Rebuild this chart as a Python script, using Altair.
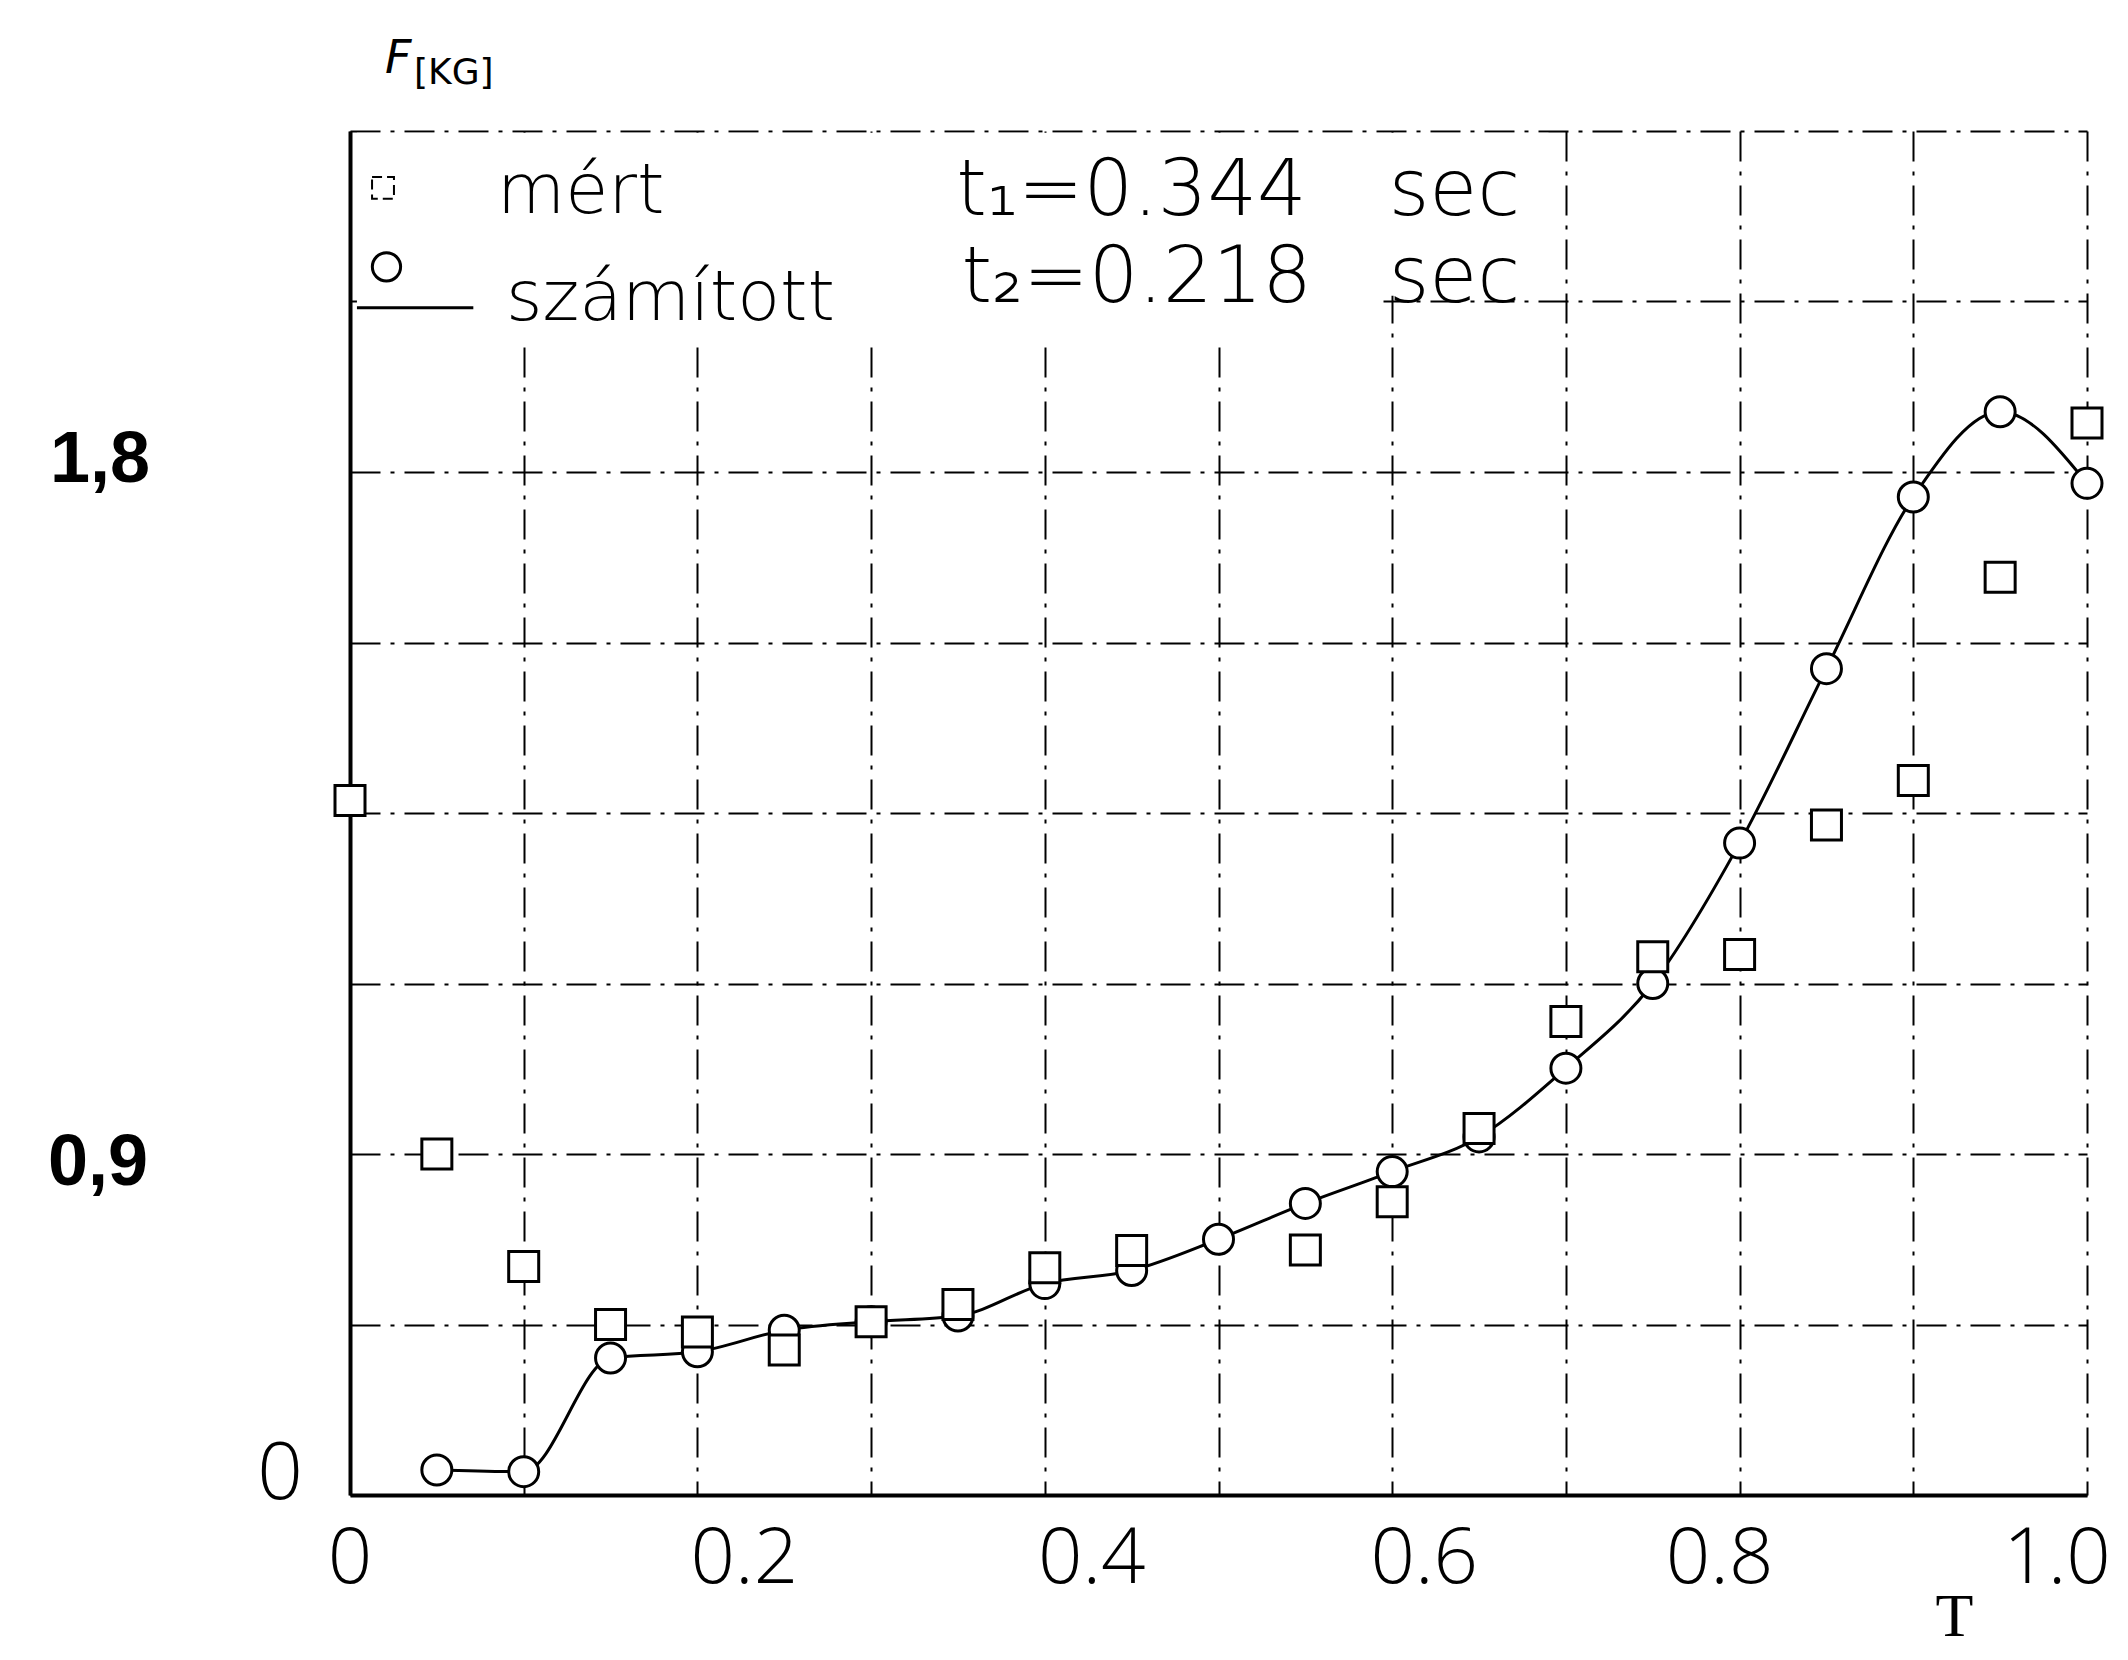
import altair as alt
import pandas as pd

# ---- data ----
T_calc = [0.05, 0.10, 0.15, 0.20, 0.25, 0.30, 0.35, 0.40, 0.45, 0.50,
          0.55, 0.60, 0.65, 0.70, 0.75, 0.80, 0.85, 0.90, 0.95, 1.00]
F_calc = [0.044, 0.041, 0.241, 0.252, 0.290, 0.305, 0.315, 0.372, 0.395, 0.450,
          0.513, 0.569, 0.630, 0.751, 0.900, 1.147, 1.454, 1.756, 1.906, 1.780]

T_meas = [0.00, 0.05, 0.10, 0.15, 0.20, 0.25, 0.30, 0.35, 0.40, 0.45,
          0.55, 0.60, 0.65, 0.70, 0.75, 0.80, 0.85, 0.90, 0.95, 1.00]
F_meas = [1.222, 0.600, 0.402, 0.300, 0.287, 0.255, 0.305, 0.335, 0.400, 0.430,
          0.431, 0.516, 0.645, 0.833, 0.947, 0.951, 1.179, 1.257, 1.615, 1.886]

x_grid = [round(i * 0.1, 1) for i in range(11)]
y_grid = [round(i * 0.3, 1) for i in range(9)]

# x tick labels, grouped by how far the typewritten label sits from its grid line
x_ticks_zero, x_ticks_zero_txt = [0.0], ["0"]
x_ticks_a, x_ticks_a_txt = [0.2, 0.4], ["0.2", "0.4"]
x_ticks_b, x_ticks_b_txt = [0.6], ["0.6"]
x_ticks_c, x_ticks_c_txt = [0.8], ["0.8"]
x_ticks_d, x_ticks_d_txt = [1.0], ["1.0"]

legend_labels = ["mért", "számított"]
t_values = ["t\u2081=0.344", "t\u2082=0.218"]
t_units = ["sec", "sec"]

# legend / annotation anchor points (in data units)
leg_sq = pd.DataFrame({"T": [0.019], "F": [2.300]})
leg_ci = pd.DataFrame({"T": [0.021], "F": [2.161]})
leg_line = pd.DataFrame({"T": [0.004], "T2": [0.071], "F": [2.089]})
leg_txt = pd.DataFrame({"T": [0.0846, 0.0898], "F": [2.256, 2.067], "txt": legend_labels})
t_val_txt = pd.DataFrame({"T": [0.349, 0.352], "F": [2.252, 2.099], "txt": t_values})
t_unit_txt = pd.DataFrame({"T": [0.598, 0.598], "F": [2.252, 2.099], "txt": t_units})
# area behind the legend where the grid is not drawn
blank = pd.DataFrame({"T": [0.004, 0.595], "T2": [0.595, 0.69],
                      "F": [2.03, 2.11], "F2": [2.397, 2.397]})

calc = pd.DataFrame({"T": T_calc, "F": F_calc})
meas = pd.DataFrame({"T": T_meas, "F": F_meas})

xs = alt.Scale(domain=[0, 1], nice=False, zero=False)
ys = alt.Scale(domain=[0, 2.4], nice=False, zero=False)

GRID_DASH = [30, 10, 4, 10]
THIN = "DejaVu Sans"
LIGHT = "Open Sans"

x_axis = alt.Axis(
    values=x_grid, grid=True, gridColor="black", gridWidth=2, gridDash=GRID_DASH,
    gridOpacity=1, ticks=False, domain=True, domainColor="black", domainWidth=4,
    labels=False,
    title="T", titleFont="Liberation Serif", titleFontWeight="normal", titleFontSize=62,
    titleColor="black", titleX=1604, titleY=140, titleAlign="center", titleBaseline="alphabetic",
)
y_axis = alt.Axis(
    values=y_grid, grid=True, gridColor="black", gridWidth=2, gridDash=GRID_DASH,
    gridOpacity=1, ticks=False, domain=True, domainColor="black", domainWidth=4,
    labels=False, title=None,
)


def X():
    return alt.X("T:Q", scale=xs, axis=x_axis)


def Y():
    return alt.Y("F:Q", scale=ys, axis=y_axis)


line = alt.Chart(calc).mark_line(color="black", strokeWidth=3, interpolate="monotone").encode(
    x=X(), y=Y()
)

blank_layer = alt.Chart(blank).mark_rect(fill="white", strokeWidth=0).encode(
    x=X(), x2="T2:Q", y=Y(), y2="F2:Q",
)

circles = alt.Chart(calc).mark_point(
    shape="circle", filled=True, fill="white", stroke="black", strokeWidth=3, size=900, opacity=1
).encode(x=X(), y=Y())
squares = alt.Chart(meas).mark_point(
    shape="square", filled=True, fill="white", stroke="black", strokeWidth=3, size=900, opacity=1
).encode(x=X(), y=Y())

leg_sq_l = alt.Chart(leg_sq).mark_point(
    shape="square", filled=True, fill="white", stroke="black", strokeWidth=2, size=480, opacity=1,
    strokeDash=[10, 5]
).encode(x=X(), y=Y())
leg_ci_l = alt.Chart(leg_ci).mark_point(
    shape="circle", filled=True, fill="white", stroke="black", strokeWidth=3, size=800, opacity=1
).encode(x=X(), y=Y())
leg_line_l = alt.Chart(leg_line).mark_rule(color="black", strokeWidth=3).encode(
    x=X(), x2="T2:Q", y=Y()
)
leg_txt_l = alt.Chart(leg_txt).mark_text(
    align="left", baseline="alphabetic", font=THIN, fontWeight=200, fontSize=70, color="black"
).encode(x=X(), y=Y(), text="txt:N")
t_val_l = alt.Chart(t_val_txt).mark_text(
    align="left", baseline="alphabetic", font=THIN, fontWeight=200, fontSize=78, color="black"
).encode(x=X(), y=Y(), text="txt:N")
t_unit_l = alt.Chart(t_unit_txt).mark_text(
    align="left", baseline="alphabetic", font=THIN, fontWeight=200, fontSize=78, color="black"
).encode(x=X(), y=Y(), text="txt:N")


def xlab(vals, txts, dx):
    df = pd.DataFrame({"T": vals, "txt": txts})
    return alt.Chart(df).mark_text(
        align="center", baseline="alphabetic", font=LIGHT, fontWeight=300, fontSize=78,
        color="black", dx=dx
    ).encode(x=X(), y=alt.value(1452), text="txt:N")


xlab_zero = xlab(x_ticks_zero, x_ticks_zero_txt, 0)
xlab_a = xlab(x_ticks_a, x_ticks_a_txt, 47)
xlab_b = xlab(x_ticks_b, x_ticks_b_txt, 32)
xlab_c = xlab(x_ticks_c, x_ticks_c_txt, -20)
xlab_d = xlab(x_ticks_d, x_ticks_d_txt, -30)

# y tick labels (hand-written in the reference)
ylab_18 = alt.Chart(pd.DataFrame({"F": [1.8], "txt": ["1,8"]})).mark_text(
    align="center", baseline="middle", font="Liberation Sans", fontWeight="bold",
    fontSize=72, color="black", dy=-12
).encode(x=alt.value(-250), y=Y(), text="txt:N")
ylab_09 = alt.Chart(pd.DataFrame({"F": [0.6], "txt": ["0,9"]})).mark_text(
    align="center", baseline="middle", font="Liberation Sans", fontWeight="bold",
    fontSize=72, color="black", dy=9
).encode(x=alt.value(-252), y=Y(), text="txt:N")
ylab_0 = alt.Chart(pd.DataFrame({"F": [0.0], "txt": ["0"]})).mark_text(
    align="center", baseline="middle", font=LIGHT, fontWeight=300, fontSize=80,
    color="black", dy=-20
).encode(x=alt.value(-70), y=Y(), text="txt:N")

# y title F[KG]
ytitle_F = alt.Chart(pd.DataFrame({"txt": ["F"]})).mark_text(
    align="left", baseline="alphabetic", font="DejaVu Sans", fontStyle="italic",
    fontSize=46, color="black"
).encode(x=alt.value(35), y=alt.value(-58), text="txt:N")
ytitle_KG = alt.Chart(pd.DataFrame({"txt": ["[KG]"]})).mark_text(
    align="left", baseline="alphabetic", font="DejaVu Sans",
    fontSize=36, color="black"
).encode(x=alt.value(64), y=alt.value(-47), text="txt:N")

chart = alt.layer(
    line, blank_layer, circles, squares,
    leg_line_l, leg_sq_l, leg_ci_l, leg_txt_l, t_val_l, t_unit_l,
    xlab_zero, xlab_a, xlab_b, xlab_c, xlab_d,
    ylab_18, ylab_09, ylab_0, ytitle_F, ytitle_KG,
).properties(
    width=1737, height=1364,
    autosize=alt.AutoSizeParams(type="none"),
    padding={"left": 342, "top": 123, "right": 30, "bottom": 157},
    background="white",
).configure_view(stroke="transparent")

chart.save("out.html", embed_options={"renderer": "svg", "actions": False})
